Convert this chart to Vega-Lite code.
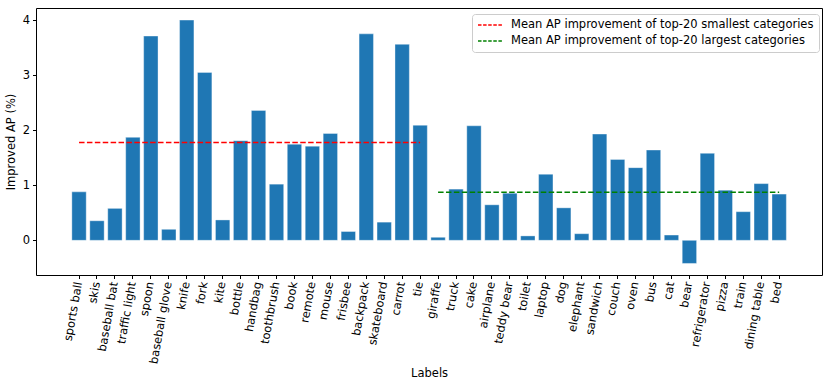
{
  "$schema": "https://vega.github.io/schema/vega-lite/v6.json",
  "width": 786,
  "height": 267,
  "autosize": "none",
  "padding": {"left": 36, "top": 8, "right": 8, "bottom": 113},
  "background": "white",
  "config": {
    "font": "DejaVu Sans",
    "view": {"stroke": "black", "strokeWidth": 1},
    "axis": {"grid": false, "domain": false, "tickColor": "black", "labelColor": "black", "titleColor": "black", "labelFontSize": 11.5, "titleFontSize": 11.5, "titleFontWeight": "normal", "tickSize": 3.5}
  },
  "datasets": {
    "bars": [
      {"label": "sports ball", "ap": 0.88},
      {"label": "skis", "ap": 0.355},
      {"label": "baseball bat", "ap": 0.58},
      {"label": "traffic light", "ap": 1.87},
      {"label": "spoon", "ap": 3.71},
      {"label": "baseball glove", "ap": 0.2},
      {"label": "knife", "ap": 4.0},
      {"label": "fork", "ap": 3.05},
      {"label": "kite", "ap": 0.37},
      {"label": "bottle", "ap": 1.81},
      {"label": "handbag", "ap": 2.36},
      {"label": "toothbrush", "ap": 1.02},
      {"label": "book", "ap": 1.745},
      {"label": "remote", "ap": 1.71},
      {"label": "mouse", "ap": 1.94},
      {"label": "frisbee", "ap": 0.16},
      {"label": "backpack", "ap": 3.75},
      {"label": "skateboard", "ap": 0.33},
      {"label": "carrot", "ap": 3.56},
      {"label": "tie", "ap": 2.09},
      {"label": "giraffe", "ap": 0.055},
      {"label": "truck", "ap": 0.93},
      {"label": "cake", "ap": 2.08},
      {"label": "airplane", "ap": 0.645},
      {"label": "teddy bear", "ap": 0.855},
      {"label": "toilet", "ap": 0.08},
      {"label": "laptop", "ap": 1.2},
      {"label": "dog", "ap": 0.59},
      {"label": "elephant", "ap": 0.12},
      {"label": "sandwich", "ap": 1.93},
      {"label": "couch", "ap": 1.47},
      {"label": "oven", "ap": 1.32},
      {"label": "bus", "ap": 1.64},
      {"label": "cat", "ap": 0.096},
      {"label": "bear", "ap": -0.42},
      {"label": "refrigerator", "ap": 1.58},
      {"label": "pizza", "ap": 0.91},
      {"label": "train", "ap": 0.52},
      {"label": "dining table", "ap": 1.03},
      {"label": "bed", "ap": 0.84}
    ],
    "means": [
      {"series": "Mean AP improvement of top-20 smallest categories", "start": "sports ball", "end": "tie", "value": 1.775},
      {"series": "Mean AP improvement of top-20 largest categories", "start": "giraffe", "end": "bed", "value": 0.874}
    ]
  },
  "layer": [
    {
      "data": {"name": "bars"},
      "mark": {"type": "bar", "color": "#1f77b4", "stroke": "#ffffff", "strokeWidth": 0.6, "strokeOpacity": 0.6},
      "encoding": {
        "x": {
          "field": "label", "type": "nominal", "sort": null,
          "scale": {"paddingInner": 0.2, "paddingOuter": 1.0, "range": [17.9, 768.3],
            "domain": ["sports ball","skis","baseball bat","traffic light","spoon","baseball glove","knife","fork","kite","bottle","handbag","toothbrush","book","remote","mouse","frisbee","backpack","skateboard","carrot","tie","giraffe","truck","cake","airplane","teddy bear","toilet","laptop","dog","elephant","sandwich","couch","oven","bus","cat","bear","refrigerator","pizza","train","dining table","bed"]},
          "axis": {"title": "Labels", "labelAngle": -80, "labelAlign": "right", "labelBaseline": "middle", "labelPadding": 3, "titlePadding": 3}
        },
        "y": {
          "field": "ap", "type": "quantitative",
          "scale": {"domain": [-0.63, 4.22], "nice": false, "zero": false},
          "axis": {"title": "Improved AP (%)", "values": [0, 1, 2, 3, 4], "format": "d", "labelPadding": 3, "titlePadding": 6}
        }
      }
    },
    {
      "data": {"name": "means"},
      "mark": {"type": "rule", "strokeDash": [5.5, 2.4], "strokeWidth": 1.5},
      "encoding": {
        "x": {"field": "start", "type": "nominal", "bandPosition": 0.5},
        "x2": {"field": "end", "bandPosition": 0.5},
        "y": {"field": "value", "type": "quantitative"},
        "color": {
          "field": "series", "type": "nominal",
          "scale": {"domain": ["Mean AP improvement of top-20 smallest categories", "Mean AP improvement of top-20 largest categories"], "range": ["#ff0000", "#008000"]},
          "legend": {
            "title": null, "orient": "none", "legendX": 436, "legendY": 6,
            "symbolType": "M-1,0H4", "symbolSize": 100, "symbolStrokeWidth": 1.5, "symbolDash": [3.5, 1.6],
            "labelFontSize": 11.5, "labelColor": "black", "labelLimit": 0, "labelOffset": 22, "rowPadding": 4,
            "fillColor": "white", "strokeColor": "#cccccc", "cornerRadius": 3, "padding": 5
          }
        }
      }
    }
  ]
}
